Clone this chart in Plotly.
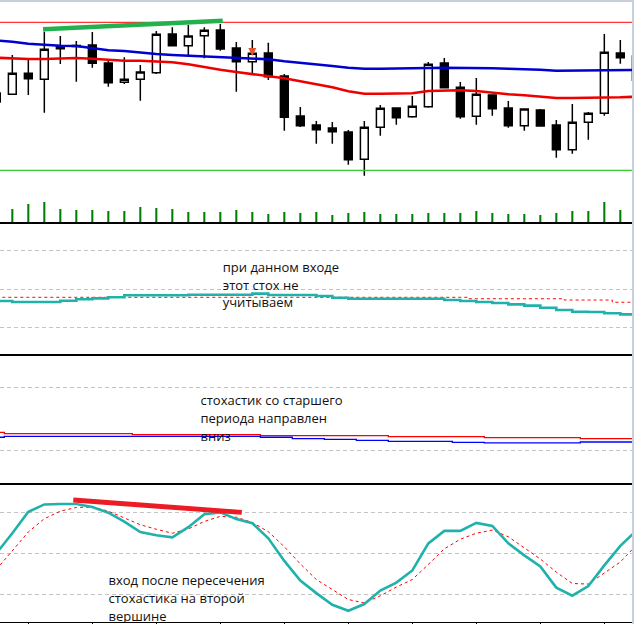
import plotly.graph_objs as go

# bar index (one per candle, the first one is only partly on screen)
bars = list(range(-1, 40))

opens = [1.3148, 1.31557, 1.31767, 1.31707, 1.32013, 1.32045, 1.3205, 1.3187, 1.31677, 1.31707,
         1.31773, 1.3216, 1.32043, 1.32143, 1.322, 1.3202, 1.31883, 1.3197, 1.3174, 1.3134,
         1.3125, 1.3122, 1.3118, 1.30907, 1.31227, 1.3142, 1.31333, 1.31433, 1.3187, 1.31627,
         1.31337, 1.3155, 1.3142, 1.31243, 1.314, 1.3125, 1.31003, 1.31277, 1.31367, 1.3197, 1.3194]
highs = [1.3162, 1.3195, 1.31907, 1.32183, 1.3214, 1.3209, 1.3218, 1.319, 1.31927, 1.3185,
         1.3219, 1.32227, 1.3225, 1.32227, 1.3226, 1.3208, 1.321, 1.32073, 1.3176, 1.3143,
         1.3129, 1.3128, 1.312, 1.3129, 1.3145, 1.31427, 1.3154, 1.3188, 1.3192, 1.3168,
         1.3172, 1.3155, 1.3149, 1.31417, 1.3141, 1.313, 1.3146, 1.3138, 1.3216, 1.321, 1.3202]
lows = [1.3144, 1.31557, 1.3155, 1.31373, 1.3186, 1.31683, 1.31823, 1.31633, 1.3166, 1.31493,
        1.3176, 1.32043, 1.3195, 1.31917, 1.31993, 1.31583, 1.31767, 1.317, 1.31193, 1.3123,
        1.31063, 1.31063, 1.30853, 1.30743, 1.31143, 1.31253, 1.31323, 1.31423, 1.31623, 1.31313,
        1.31253, 1.31343, 1.31223, 1.31193, 1.31233, 1.30923, 1.30963, 1.31103, 1.31343, 1.31863, 1.3165]
closes = [1.3157, 1.31767, 1.31713, 1.32007, 1.32033, 1.32035, 1.31867, 1.31673, 1.31707, 1.3178,
          1.32157, 1.32043, 1.3214, 1.32197, 1.3201, 1.31883, 1.31967, 1.31733, 1.31327, 1.31243,
          1.31203, 1.31183, 1.30903, 1.31227, 1.31417, 1.31323, 1.31437, 1.31857, 1.31623, 1.31333,
          1.31557, 1.31413, 1.31243, 1.3141, 1.3124, 1.31003, 1.31277, 1.31367, 1.31977, 1.31923, 1.31697]
volumes = [1200, 1300, 1800, 2000, 1300, 1200, 1200, 1100, 1100, 1500,
           1400, 1300, 1000, 1000, 1000, 1200, 1000, 800, 1000, 900,
           1000, 700, 900, 1000, 800, 800, 800, 900, 900, 900,
           1100, 900, 800, 800, 700, 900, 1100, 1100, 2000, 1200, 1400]

ma_slow = [1.32095, 1.32083, 1.32063, 1.3205, 1.32043, 1.3204, 1.32017, 1.31997, 1.3199, 1.31973,
           1.3196, 1.3195, 1.31943, 1.31937, 1.31927, 1.31917, 1.3191, 1.31907, 1.31887, 1.31873,
           1.3186, 1.3184, 1.31823, 1.31813, 1.31813, 1.31813, 1.31813, 1.3182, 1.31823, 1.31823,
           1.31823, 1.31817, 1.31813, 1.3181, 1.31803, 1.31793, 1.31793, 1.31793, 1.318, 1.318, 1.318]
ma_fast = [1.31923, 1.31913, 1.3191, 1.3191, 1.31913, 1.3192, 1.31913, 1.319, 1.31893, 1.31893,
           1.31887, 1.31877, 1.31857, 1.31827, 1.31803, 1.3178, 1.3176, 1.31743, 1.31717, 1.31687,
           1.31657, 1.31627, 1.31587, 1.31563, 1.31563, 1.31563, 1.31567, 1.3159, 1.31597, 1.31597,
           1.3159, 1.3157, 1.31557, 1.31547, 1.31533, 1.3152, 1.3152, 1.3152, 1.3152, 1.31527, 1.31533]

resistance = 1.32277
support = 1.30797
top_line_x = [1.92, 13.15]
top_line_y = [1.32207, 1.32293]
sell_bar = [15]
sell_price = [1.3194]

# stochastic of an older timeframe (window 2)
stoch_a_main = [40.8, 40.0, 40.0, 40.0, 41.0, 42.1, 42.8, 43.6, 45.2, 45.2,
                45.2, 45.2, 45.6, 45.6, 45.6, 45.6, 46.4, 45.4, 45.4, 45.4,
                44.6, 43.3, 42.5, 42.5, 42.5, 42.5, 42.5, 42.5, 41.5, 40.8,
                40.0, 39.2, 38.2, 37.2, 35.6, 33.8, 32.5, 32.3, 31.3, 30.5, 30.0]
stoch_a_signal = [43.6, 43.6, 43.6, 43.6, 43.6, 43.6, 43.6, 43.6, 43.6, 43.6,
                  43.6, 43.6, 43.6, 43.6, 43.6, 43.6, 43.6, 43.6, 43.6, 43.6,
                  43.6, 43.6, 43.6, 43.6, 43.6, 43.6, 43.6, 43.6, 43.6, 43.6,
                  42.5, 42.5, 42.5, 42.5, 42.5, 42.5, 41.5, 41.5, 41.5, 39.8, 39.8]

# stochastic of the senior period (window 3)
stoch_b_red = [37.7, 36.4, 36.4, 36.4, 36.4, 36.4, 36.4, 36.4, 36.4, 35.5,
               35.5, 35.5, 35.5, 35.5, 35.5, 35.5, 35.5, 34.5, 34.5, 34.5,
               34.5, 34.5, 34.5, 34.5, 34.5, 33.6, 33.6, 33.6, 33.6, 33.6,
               33.6, 32.6, 32.6, 32.6, 32.6, 32.6, 32.6, 31.7, 31.7, 31.7, 31.7]
stoch_b_blue = [33.0, 33.9, 33.9, 33.9, 33.9, 33.9, 33.9, 33.9, 33.9, 33.9,
                33.9, 33.9, 33.9, 33.9, 33.9, 33.9, 33.9, 33.0, 33.0, 31.7,
                31.7, 31.1, 31.1, 30.1, 30.1, 29.2, 29.2, 29.2, 29.2, 28.2,
                28.2, 27.6, 27.6, 27.6, 27.6, 27.6, 27.6, 28.5, 28.5, 28.5, 28.5]

# working stochastic (window 4)
stoch_c_main = [50.1, 64.8, 80.4, 85.8, 86.1, 86.1, 83.9, 79.8, 73.2, 65.7,
                63.3, 61.8, 69.2, 78.7, 80.0, 75.1, 72.1, 61.1, 44.6, 30.3,
                21.1, 12.6, 8.2, 13.1, 22.9, 28.8, 37.6, 57.4, 66.5, 66.5,
                72.3, 70.1, 57.4, 48.6, 40.5, 25.1, 19.2, 26.2, 41.3, 55.6, 66.6]
stoch_c_signal = [38.3, 51.6, 65.7, 75.4, 80.9, 83.6, 83.9, 80.9, 76.2, 71.0,
                  67.7, 64.8, 67.9, 73.4, 77.1, 76.5, 72.6, 65.9, 54.9, 42.4,
                  31.0, 23.4, 16.4, 13.9, 19.1, 25.5, 31.0, 42.0, 53.4, 60.4,
                  64.8, 67.1, 62.2, 54.1, 46.0, 36.4, 28.1, 27.7, 35.9, 43.8, 56.0]
div_line_x = [3.81, 14.34]
div_line_y = [89.0, 80.0]

note_a = ['при данном входе', 'этот стох не', 'учитываем']
note_b = ['стохастик со старшего', 'периода направлен', 'вниз']
note_c = ['вход после пересечения', 'стохастика на второй', 'вершине']

x_range = [-0.77, 38.73]
teal = '#20b2aa'
txt_font = dict(family='Open Sans', size=13, color='#111111')

fig = go.Figure()

# --- main window
fig.add_trace(go.Bar(x=bars, y=volumes, width=0.13, marker=dict(color='#008000', line_width=0),
                     xaxis='x', yaxis='y2'))
fig.add_trace(go.Scatter(x=x_range, y=[resistance, resistance], mode='lines',
                         line=dict(color='#ff0000', width=1)))
fig.add_trace(go.Scatter(x=x_range, y=[support, support], mode='lines',
                         line=dict(color='#33cc33', width=1.3)))
fig.add_trace(go.Candlestick(x=bars, open=opens, high=highs, low=lows, close=closes,
                             whiskerwidth=0,
                             increasing=dict(line=dict(color='black', width=1.5), fillcolor='white'),
                             decreasing=dict(line=dict(color='black', width=1.5), fillcolor='black')))
fig.add_trace(go.Scatter(x=bars, y=ma_slow, mode='lines', line=dict(color='#0000d0', width=2.6)))
fig.add_trace(go.Scatter(x=bars, y=ma_fast, mode='lines', line=dict(color='#ee0000', width=2.6)))
fig.add_trace(go.Scatter(x=top_line_x, y=top_line_y, mode='lines', line=dict(color='#22b14c', width=4.5)))
fig.add_trace(go.Scatter(x=sell_bar, y=sell_price, mode='markers',
                         marker=dict(symbol='arrow-down', size=8, color='#e8542a')))

# --- window 2
fig.add_trace(go.Scatter(x=bars, y=stoch_a_signal, mode='lines', line_shape='hvh',
                         line=dict(color='#ff0000', width=1, dash='3px,3px'), xaxis='x2', yaxis='y3'))
fig.add_trace(go.Scatter(x=bars, y=stoch_a_main, mode='lines', line_shape='hv',
                         line=dict(color=teal, width=2.6), xaxis='x2', yaxis='y3'))
fig.add_trace(go.Scatter(x=[13.15] * 3, y=[65.7, 52.1, 38.3], mode='text', text=note_a,
                         textposition='middle right', textfont=txt_font, xaxis='x2', yaxis='y3'))

# --- window 3
fig.add_trace(go.Scatter(x=bars, y=stoch_b_red, mode='lines', line_shape='hvh',
                         line=dict(color='#ff0000', width=1.3), xaxis='x3', yaxis='y4'))
fig.add_trace(go.Scatter(x=bars, y=stoch_b_blue, mode='lines', line_shape='hvh',
                         line=dict(color='#0000ff', width=1.3), xaxis='x3', yaxis='y4'))
fig.add_trace(go.Scatter(x=[11.76] * 3, y=[66.7, 50.0, 33.0], mode='text', text=note_b,
                         textposition='middle right', textfont=txt_font, xaxis='x3', yaxis='y4'))

# --- window 4
fig.add_trace(go.Scatter(x=bars, y=stoch_c_signal, mode='lines',
                         line=dict(color='#ff0000', width=1, dash='3px,3px'), xaxis='x4', yaxis='y5'))
fig.add_trace(go.Scatter(x=bars, y=stoch_c_main, mode='lines',
                         line=dict(color=teal, width=2.6), xaxis='x4', yaxis='y5'))
fig.add_trace(go.Scatter(x=div_line_x, y=div_line_y, mode='lines',
                         line=dict(color='#ed1c24', width=5), xaxis='x4', yaxis='y5'))
fig.add_trace(go.Scatter(x=[6.01] * 3, y=[29.0, 16.1, 3.3], mode='text', text=note_c,
                         textposition='middle right', textfont=txt_font, cliponaxis=True,
                         xaxis='x4', yaxis='y5'))

xbase = dict(range=x_range, showgrid=False, zeroline=False, showticklabels=False,
             showline=True, linecolor='black', linewidth=1, fixedrange=True)
ybase = dict(showgrid=False, zeroline=False, showticklabels=False, ticks='', fixedrange=True)
ylevels = dict(showgrid=True, gridcolor='#c4c4c4', griddash='4px,3px', gridwidth=1,
               zeroline=False, showticklabels=False, ticks='', fixedrange=True)

fig.update_layout(
    width=634, height=624,
    margin=dict(l=0, r=2, t=2, b=2),
    plot_bgcolor='white', paper_bgcolor='white',
    showlegend=False, hovermode=False,
    xaxis=dict(xbase, anchor='y', mirror=False, rangeslider=dict(visible=False)),
    yaxis=dict(ybase, domain=[0.6452, 1.0], range=[1.3028, 1.3248]),
    yaxis2=dict(ybase, overlaying='y', range=[0, 22000], visible=False),
    xaxis2=dict(xbase, anchor='y3', mirror=True),
    yaxis3=dict(ylevels, domain=[0.4323, 0.6419], range=[0, 100], tickvals=[20, 50, 80]),
    xaxis3=dict(xbase, anchor='y4', mirror=True),
    yaxis4=dict(ylevels, domain=[0.2234, 0.4290], range=[-10.8, 110], tickvals=[20, 80]),
    xaxis4=dict(xbase, anchor='y5', mirror=True, ticks='outside', ticklen=3, tickcolor='black',
                tickvals=[1, 5, 9, 13, 17, 21, 25, 29, 33, 37]),
    yaxis5=dict(ylevels, domain=[0, 0.2210], range=[0, 100], tickvals=[20, 50, 80]),
    shapes=[
        dict(type='rect', xref='paper', yref='paper', x0=0, x1=1 + 2 / 632, y0=1, y1=1 + 2 / 620,
             fillcolor='#c8d0de', line_width=0, layer='above'),
        dict(type='rect', xref='paper', yref='paper', x0=1, x1=1 + 2 / 632, y0=-2 / 620, y1=1 + 2 / 620,
             fillcolor='#c8d0de', line_width=0, layer='above'),
    ],
)

fig.write_html("out.html", config={'displayModeBar': False},
               post_script="document.body.style.margin='0';document.body.style.overflow='hidden';")
